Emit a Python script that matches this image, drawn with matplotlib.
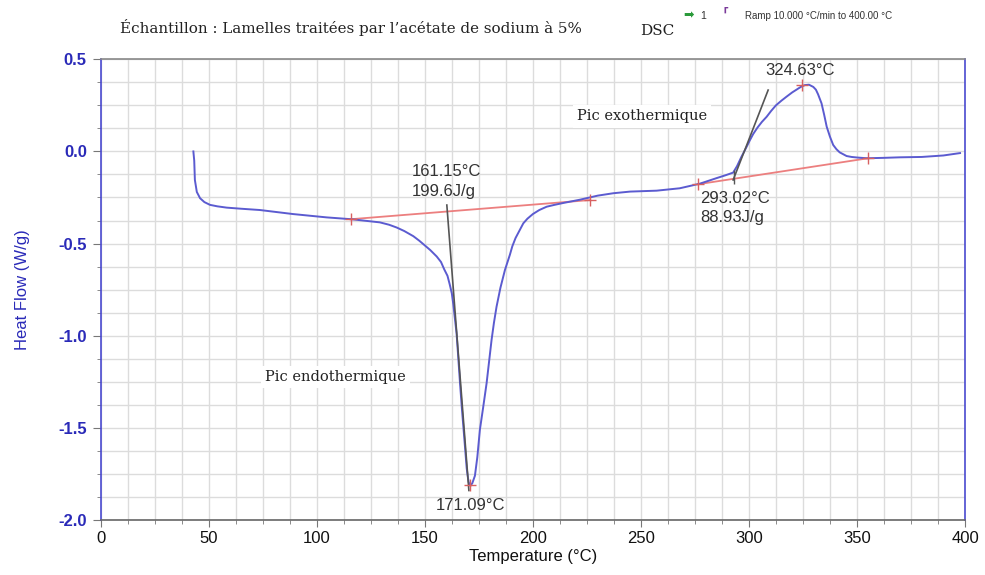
import matplotlib
matplotlib.use("Agg")
import matplotlib.pyplot as plt
from matplotlib.ticker import MultipleLocator, FormatStrFormatter

plt.rcParams['axes.unicode_minus'] = False
plt.rcParams['font.family'] = ['Liberation Sans', 'DejaVu Sans']

# ---- data ----
temperature = [42.9, 43.3, 43.6, 44.5, 46.0, 48.0, 50.6, 54, 58.3, 65, 73.7, 89.1, 104.6,
               116.1, 129.2, 133.5, 137, 140.5, 144.7, 147.5, 150, 152.5, 155.5, 157.5,
               159, 160.5, 161.5, 162.5, 163.2, 164.7, 165.5, 166.3, 167.2, 168.1, 169.4,
               169.9, 170.3, 171.1, 172.0, 173.2, 174.3, 175.5, 177, 178.6, 180.9, 182,
               183.2, 185, 187.1, 189.4, 190.5, 192, 195.6, 197.5, 200, 203, 206.4, 210,
               214, 221.8, 230, 237.2, 245, 257.3, 268, 277.3, 285, 289, 292.7, 294.5,
               296.5, 298.5, 300.5, 302, 304, 306, 308.2, 310.3, 312.5, 315, 317.4, 320,
               322, 324, 325.9, 327.8, 329.8, 331, 332, 333.6, 334.8, 336, 337.5, 339,
               340.5, 342, 345.2, 347.5, 350, 354.5, 362, 369.9, 380, 390, 397.7]
heat_flow = [0.0, -0.05, -0.155, -0.22, -0.254, -0.275, -0.29, -0.298, -0.305, -0.311,
             -0.318, -0.34, -0.358, -0.368, -0.385, -0.398, -0.413, -0.432, -0.46, -0.485,
             -0.51, -0.535, -0.57, -0.6, -0.64, -0.675, -0.72, -0.77, -0.83, -0.987,
             -1.12, -1.258, -1.40, -1.53, -1.72, -1.765, -1.795, -1.815, -1.80, -1.76,
             -1.66, -1.51, -1.39, -1.258, -1.023, -0.93, -0.843, -0.74, -0.643, -0.56,
             -0.515, -0.47, -0.39, -0.365, -0.34, -0.318, -0.30, -0.29, -0.28, -0.262,
             -0.24, -0.227, -0.218, -0.213, -0.2, -0.175, -0.145, -0.13, -0.115, -0.08,
             -0.03, 0.015, 0.062, 0.095, 0.13, 0.16, 0.188, 0.22, 0.25, 0.275, 0.297,
             0.32, 0.335, 0.35, 0.36, 0.362, 0.35, 0.335, 0.31, 0.261, 0.2, 0.134, 0.08,
             0.035, 0.012, -0.005, -0.025, -0.03, -0.033, -0.037, -0.035, -0.032, -0.03,
             -0.022, -0.009]

endo_baseline_T = [115.7, 226.4]
endo_baseline_HF = [-0.368, -0.264]
exo_baseline_T = [276.5, 355.2]
exo_baseline_HF = [-0.178, -0.037]
endo_tangent_T = [160.2, 170.4]
endo_tangent_HF = [-0.291, -1.84]
exo_tangent_T = [292.7, 308.9]
exo_tangent_HF = [-0.155, 0.333]

marker_T = [115.7, 226.4, 171.09, 276.5, 355.2, 324.63]
marker_HF = [-0.368, -0.264, -1.81, -0.178, -0.037, 0.36]
onset_T = [293.02]
onset_HF = [-0.14]

x_ticks = [0, 50, 100, 150, 200, 250, 300, 350, 400]
y_ticks = [-2.0, -1.5, -1.0, -0.5, 0.0, 0.5]

# ---- figure ----
fig = plt.figure(figsize=(9.85, 5.75), dpi=100)
ax = fig.add_axes([0.1022, 0.0957, 0.8775, 0.8012])

curve_color = '#5b5bd0'
ax.plot(temperature, heat_flow, color=curve_color, lw=1.4, zorder=4,
        solid_joinstyle='round')
ax.plot(endo_baseline_T, endo_baseline_HF, color='#ec7f7f', lw=1.3, zorder=3)
ax.plot(exo_baseline_T, exo_baseline_HF, color='#ec7f7f', lw=1.3, zorder=3)
ax.plot(endo_tangent_T, endo_tangent_HF, color='#555555', lw=1.2, zorder=5)
ax.plot(exo_tangent_T, exo_tangent_HF, color='#555555', lw=1.2, zorder=5)
ax.plot(marker_T, marker_HF, ls='none', marker='+', ms=9, mew=1.0, color='#d86060', zorder=6)
ax.plot(onset_T, onset_HF, ls='none', marker='|', ms=10, mew=1.0, color='#555555', zorder=6)

ax.set_xlim(0, 400)
ax.set_ylim(-2.0, 0.5)
ax.set_xticks(x_ticks)
ax.set_yticks(y_ticks)
ax.xaxis.set_minor_locator(MultipleLocator(12.5))
ax.yaxis.set_minor_locator(MultipleLocator(0.125))
ax.yaxis.set_major_formatter(FormatStrFormatter('%.1f'))
ax.grid(True, which='both', color='#dcdcdc', lw=1.0)
ax.set_axisbelow(True)

ax.tick_params(axis='x', which='major', direction='out', length=5, color='#777777',
               labelsize=12, labelcolor='#111111', pad=3)
ax.tick_params(axis='x', which='minor', direction='out', length=3, color='#777777')
ax.tick_params(axis='y', which='major', direction='out', length=6, color='#777777',
               labelsize=12, labelcolor='#2a2ab8', pad=4)
ax.tick_params(axis='y', which='minor', direction='out', length=3, color='#777777')
for lab in ax.get_yticklabels():
    lab.set_fontweight('bold')

ax.spines['left'].set_color('#4a4ad0')
ax.spines['right'].set_color('#4a4ad0')
ax.spines['top'].set_color('#888888')
ax.spines['bottom'].set_color('#666666')
for s in ax.spines.values():
    s.set_linewidth(1.2)

ax.set_xlabel('Temperature (°C)', fontsize=12, color='#111111', labelpad=2)
ax.set_ylabel('Heat Flow (W/g)', fontsize=12, color='#2a2ab8', labelpad=20)

ann = dict(fontsize=12, color='#333333', zorder=7)
ax.text(144.1, -0.11, '161.15°C', ha='left', va='center', **ann)
ax.text(144.1, -0.22, '199.6J/g', ha='left', va='center', **ann)
ax.text(171.0, -1.92, '171.09°C', ha='center', va='center', **ann)
ax.text(277.3, -0.253, '293.02°C', ha='left', va='center', **ann)
ax.text(277.3, -0.356, '88.93J/g', ha='left', va='center', **ann)
ax.text(307.4, 0.44, '324.63°C', ha='left', va='center', **ann)

serif = ['DejaVu Serif']
ax.text(220.4, 0.19, 'Pic exothermique', ha='left', va='center', fontsize=10.5,
        family=serif, color='#222222', zorder=7,
        bbox=dict(boxstyle='square,pad=0.3', fc='white', ec='none'))
ax.text(76.0, -1.224, 'Pic endothermique', ha='left', va='center', fontsize=10.5,
        family=serif, color='#222222', zorder=7,
        bbox=dict(boxstyle='square,pad=0.3', fc='white', ec='none'))

fig.text(120/985, 1 - 27/575, "Échantillon : Lamelles traitées par l’acétate de sodium à 5%",
         ha='left', va='center', fontsize=10.9, family=serif, color='#222222')
fig.text(640/985, 1 - 31/575, 'DSC', ha='left', va='center', fontsize=11,
         family=serif, color='#222222')
fig.text(683/985, 1 - 16/575, '➡', ha='left', va='center', fontsize=9,
         family=['DejaVu Sans'], color='#2a9a3a')
fig.text(700/985, 1 - 16/575, '1', ha='left', va='center', fontsize=7.5, color='#333333')
fig.text(722/985, 1 - 16/575, '⸢', ha='left', va='center', fontsize=13,
         family=['DejaVu Sans'], color='#7a3a9a')
fig.text(745/985, 1 - 16/575, 'Ramp 10.000 °C/min to 400.00 °C', ha='left', va='center',
         fontsize=7, color='#333333')

fig.savefig('out.png', dpi=100)
